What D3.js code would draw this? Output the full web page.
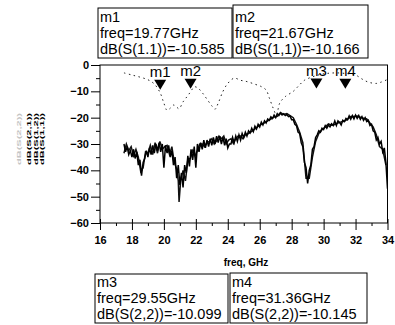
<!DOCTYPE html>
<html>
<head>
<meta charset="utf-8">
<script src="https://cdn.jsdelivr.net/npm/d3@7"></script>
<style>
  body { margin: 0; background: #fff; }
  text { font-family: "Liberation Sans", Arial, sans-serif; }
  .tick { font-family: "Liberation Sans Narrow", "Liberation Sans", Arial, sans-serif; font-weight: bold; font-size: 11px; }
</style>
</head>
<body>
<div class="canva"></div>
<script>
// axis ticks
const xTicks = [16, 18, 20, 22, 24, 26, 28, 30, 32, 34];
const yTicks = [0, -10, -20, -30, -40, -50, -60];
const yTitles = ["dB(S(2,2))", "dB(S(2,1))", "dB(S(1,2))", "dB(S(1,1))"];

// dB(S(1,1)) / dB(S(2,2)) dotted trace, [freq, dB]
const s11 = [[17.5,-3],[18.0,-3.8],[18.5,-4.6],[19.0,-5.6],[19.4,-7.2],[19.77,-10.6],[20.0,-14.5],[20.2,-17.2],
  [20.4,-16.4],[20.6,-15.2],[20.8,-16],[20.95,-16.6],[21.2,-14],[21.45,-12],[21.67,-10.2],[21.9,-8.3],
  [22.1,-8.6],[22.4,-10.5],[22.7,-13],[23.0,-15.5],[23.2,-16.8],[23.4,-14.5],[23.7,-10],[24.0,-7],[24.4,-5],
  [24.8,-5.8],[25.2,-6.3],[25.7,-7.3],[26.1,-8.2],[26.4,-9.5],[26.6,-12.5],[26.85,-16.5],[27.05,-19],
  [27.25,-14.5],[27.6,-12],[28.1,-10],[28.5,-7.5],[28.8,-5.8],[29.3,-4.5],[29.8,-3.6],[30.2,-3.2],[30.8,-3],
  [31.5,-3.3],[32.0,-3.8],[32.4,-5.3],[32.8,-6.5],[33.3,-7],[33.6,-6.5],[34.0,-5.5]];

// dB(S(2,1)) noisy trace
const s21 = [[17.5,-30],[17.6,-33],[17.7,-31],[17.8,-34],[17.9,-32.5],[18.0,-35],[18.1,-32],[18.2,-35.5],
  [18.3,-33],[18.4,-38],[18.5,-36],[18.6,-42],[18.7,-37],[18.8,-35.5],[18.9,-32.5],[19.0,-35],[19.1,-31.5],
  [19.2,-34],[19.3,-30.5],[19.4,-33.5],[19.5,-30],[19.6,-32.5],[19.7,-29.5],[19.8,-33],[19.9,-30],[20.0,-39],
  [20.1,-30.5],[20.2,-33.5],[20.3,-30.5],[20.4,-35],[20.5,-32.5],[20.6,-38],[20.7,-35],[20.8,-43],[20.9,-38],
  [21.0,-45.5],[21.1,-41],[21.2,-46.5],[21.3,-38],[21.4,-41],[21.5,-34.5],[21.6,-38.5],[21.7,-32],[21.8,-36],
  [21.9,-31],[22.0,-39],[22.1,-30],[22.2,-33],[22.3,-29.5],[22.4,-32],[22.5,-28.5],[22.6,-31.5],[22.7,-28.5],
  [22.8,-31],[22.9,-28],[23.0,-30.5],[23.1,-27.5],[23.2,-30],[23.3,-27],[23.4,-29.5],[23.5,-27],[23.6,-30],
  [23.7,-27.5],[23.8,-30.5],[23.9,-28],[24.0,-31.5],[24.1,-30],[24.2,-30],[24.3,-27.5],[24.4,-29.5],[24.5,-27],
  [24.6,-29],[24.7,-26.5],[24.8,-28.5],[24.9,-26],[25.0,-27.5],[25.1,-25.5],[25.2,-27],[25.3,-25],[25.4,-25.8],
  [25.5,-24],[25.6,-25.3],[25.7,-23.2],[25.8,-24.3],[25.9,-22.5],[26.0,-23.5],[26.1,-21.7],[26.2,-22.8],
  [26.3,-21.2],[26.4,-22],[26.5,-20.5],[26.6,-21],[26.7,-19.7],[26.8,-20.3],[26.9,-19],[27.0,-20],
  [27.1,-18.5],[27.2,-19.2],[27.3,-18.3],[27.4,-19],[27.5,-18.5],[27.6,-19.2],[27.7,-18.8],[27.8,-19.6],
  [27.9,-19.4],[28.0,-20.8],[28.1,-20.8],[28.2,-22.5],[28.3,-23],[28.4,-25.5],[28.5,-26],[28.6,-29.5],[28.7,-31],
  [28.8,-37],[28.9,-39],[29.0,-45],[29.1,-40],[29.2,-38],[29.3,-32],[29.4,-31],[29.5,-27.5],[29.6,-26.5],
  [29.7,-25],[29.8,-25.5],[29.9,-24],[30.0,-24.5],[30.1,-23],[30.2,-24],[30.3,-22.8],[30.4,-23.5],[30.5,-22.3],
  [30.6,-23],[30.7,-21.3],[30.8,-23],[30.9,-21.2],[31.0,-21.8],[31.1,-22.8],[31.2,-21],[31.3,-21.5],
  [31.4,-20.3],[31.5,-20.8],[31.6,-19.3],[31.7,-20.6],[31.8,-19.2],[31.9,-20.5],[32.0,-19],[32.1,-20.3],
  [32.2,-19.2],[32.3,-20.6],[32.4,-19.6],[32.5,-21],[32.6,-20],[32.7,-21.5],[32.8,-21],[32.9,-23],
  [33.0,-22.5],[33.1,-25],[33.2,-25.5],[33.3,-28.5],[33.4,-27.5],[33.5,-30],[33.6,-29],[33.7,-33],[33.8,-31.5],
  [33.9,-37],[34.0,-47]];

// dB(S(1,2)) noisy trace
const s12 = [[17.5,-33.5],[17.65,-30],[17.8,-32.5],[17.95,-31],[18.1,-34.5],[18.25,-32],[18.4,-35],[18.55,-40.5],
  [18.7,-39],[18.85,-33],[19.0,-33.5],[19.15,-30.5],[19.3,-34],[19.45,-29.5],[19.6,-33.5],[19.75,-29],[19.9,-32],
  [20.05,-31],[20.2,-30.5],[20.35,-34],[20.5,-31],[20.65,-37],[20.8,-39.5],[20.9,-44],[20.95,-52],[21.05,-44],
  [21.2,-40],[21.35,-44],[21.5,-36],[21.65,-35.5],[21.8,-32.5],[21.95,-34.5],[22.1,-32.5],[22.25,-30],
  [22.4,-30],[22.55,-31],[22.7,-29.5],[22.85,-29],[23.0,-28],[23.15,-30],[23.3,-28.8],[23.45,-27],[23.6,-28],
  [23.75,-27],[23.9,-30],[24.05,-28.5],[24.2,-28],[24.35,-29.8],[24.5,-28],[24.65,-27],[24.8,-27],[24.95,-28],
  [25.1,-26.5],[25.3,-26],[25.5,-25.2],[25.7,-24.3],[25.9,-23.3],[26.1,-22.5],[26.3,-22],[26.5,-21.2],
  [26.7,-20.5],[26.9,-19.8],[27.1,-19.5],[27.3,-18],[27.5,-18.8],[27.7,-18.4],[27.9,-19.2],[28.1,-20],
  [28.3,-22.5],[28.5,-25.5],[28.7,-29.5],[28.9,-43],[29.1,-43],[29.3,-35],[29.5,-29],[29.7,-26],[29.9,-24.6],
  [30.1,-23.6],[30.3,-22.4],[30.5,-22.9],[30.7,-22.6],[30.9,-22],[31.1,-21.6],[31.3,-21.4],[31.5,-20.6],
  [31.7,-19.6],[31.9,-19.6],[32.1,-19.4],[32.3,-19.8],[32.5,-20.2],[32.7,-20.5],[32.9,-22],[33.1,-23.5],
  [33.3,-26.5],[33.5,-31],[33.7,-32],[33.9,-38]];

// markers
const markerNames = ["m1", "m2", "m3", "m4"];
const markerFreq = [19.77, 21.67, 29.55, 31.36];
const markerDb = [-10.585, -10.166, -10.099, -10.145];
const markerTrace = ["dB(S(1.1))", "dB(S(1,1))", "dB(S(2,2))", "dB(S(2,2))"];

const svg = d3.select(".canva").append("svg")
    .attr("width", 395)
    .attr("height", 325);

const x = d3.scaleLinear().domain([16, 34]).range([100, 387.5]);
const y = d3.scaleLinear().domain([-60, 0]).range([223, 65]);

svg.append("clipPath").attr("id", "plot")
  .append("rect").attr("x", 100).attr("y", 65).attr("width", 287.5).attr("height", 158);

// frame
svg.append("rect")
    .attr("x", 100).attr("y", 65)
    .attr("width", 287.5).attr("height", 158)
    .attr("fill", "none").attr("stroke", "#000");

// y axis: major ticks outward, minor ticks between
svg.append("g").attr("transform", "translate(100,0)")
    .call(d3.axisLeft(y).tickValues(yTicks).tickSize(9).tickPadding(2));
svg.append("g").attr("transform", "translate(100,0)")
    .call(d3.axisLeft(y).tickValues([-5, -15, -25, -35, -45, -55]).tickSize(4).tickFormat(""));

// x axis
const xAxis = svg.append("g").attr("transform", "translate(0,223)")
    .call(d3.axisBottom(x).tickValues(xTicks).tickSize(7).tickPadding(6));
xAxis.selectAll(".tick line").attr("y1", -4);
svg.append("g").attr("transform", "translate(0,223)")
    .call(d3.axisBottom(x).tickValues([17, 19, 21, 23, 25, 27, 29, 31, 33]).tickSize(3).tickFormat(""));

svg.selectAll(".domain").remove();
svg.selectAll(".tick text").attr("class", "tick").attr("fill", "#000");

// axis titles (stacked, rotated)
const yt = svg.append("g").attr("transform", "translate(0,139) rotate(-90)");
yt.selectAll("text").data(yTitles).enter().append("text")
    .attr("x", 0)
    .attr("y", (d, i) => i == 0 ? 21 : 24.6 + i * 6.5)
    .attr("text-anchor", "middle")
    .attr("font-size", 6).attr("font-weight", "bold")
    .attr("textLength", 52).attr("lengthAdjust", "spacingAndGlyphs")
    .attr("fill", (d, i) => i == 0 ? "#c4c4c4" : "#000")
    .text(d => d);

svg.append("text")
    .attr("x", 246).attr("y", 266)
    .attr("text-anchor", "middle")
    .attr("font-size", 10).attr("font-weight", "bold")
    .text("freq, GHz");

// traces
const line = d3.line().x(d => x(d[0])).y(d => y(d[1]));
const traces = svg.append("g").attr("clip-path", "url(#plot)");

traces.append("path").datum(s12)
    .attr("d", line).attr("fill", "none")
    .attr("stroke", "#111").attr("stroke-width", 1.5);
traces.append("path").datum(s21)
    .attr("d", line).attr("fill", "none")
    .attr("stroke", "#000").attr("stroke-width", 1.5);
traces.append("path").datum(s11)
    .attr("d", d3.line().curve(d3.curveCatmullRom).x(d => x(d[0])).y(d => y(d[1])))
    .attr("fill", "none")
    .attr("stroke", "#222").attr("stroke-width", 1)
    .attr("stroke-dasharray", "1.5,3.5");

// marker triangles and names
const mk = svg.selectAll(".mk").data(markerNames).enter().append("g");
mk.append("path")
    .attr("d", (d, i) => {
      const px = x(markerFreq[i]), py = y(markerDb[i]) - 3;
      return `M${px},${py}L${px - 6},${py - 10}L${px + 6},${py - 10}Z`;
    })
    .attr("fill", "#000");
mk.append("text")
    .attr("x", (d, i) => x(markerFreq[i]))
    .attr("y", (d, i) => y(markerDb[i]) - 16)
    .attr("text-anchor", "middle")
    .attr("font-size", 15)
    .text(d => d);

// readout boxes
const boxes = [
  {x: 98, y: 8, w: 134, h: 50, t: 22},
  {x: 233, y: 5, w: 135, h: 53, t: 22},
  {x: 95, y: 274, w: 133, h: 49, t: 287},
  {x: 230, y: 273, w: 137, h: 50, t: 287}
];
const bx = svg.selectAll(".box").data(boxes).enter().append("g");
bx.append("rect")
    .attr("x", d => d.x).attr("y", d => d.y)
    .attr("width", d => d.w).attr("height", d => d.h)
    .attr("fill", "#fff").attr("stroke", "#000");
bx.each(function(d, i) {
  const g = d3.select(this);
  const rows = [markerNames[i], "freq=" + markerFreq[i].toFixed(2) + "GHz",
                markerTrace[i] + "=" + markerDb[i].toFixed(3)];
  g.selectAll("text").data(rows).enter().append("text")
      .attr("x", d.x + 2)
      .attr("y", (r, j) => d.t + j * 15.8)
      .attr("font-size", 14.5)
      .text(r => r);
});
</script>
</body>
</html>
